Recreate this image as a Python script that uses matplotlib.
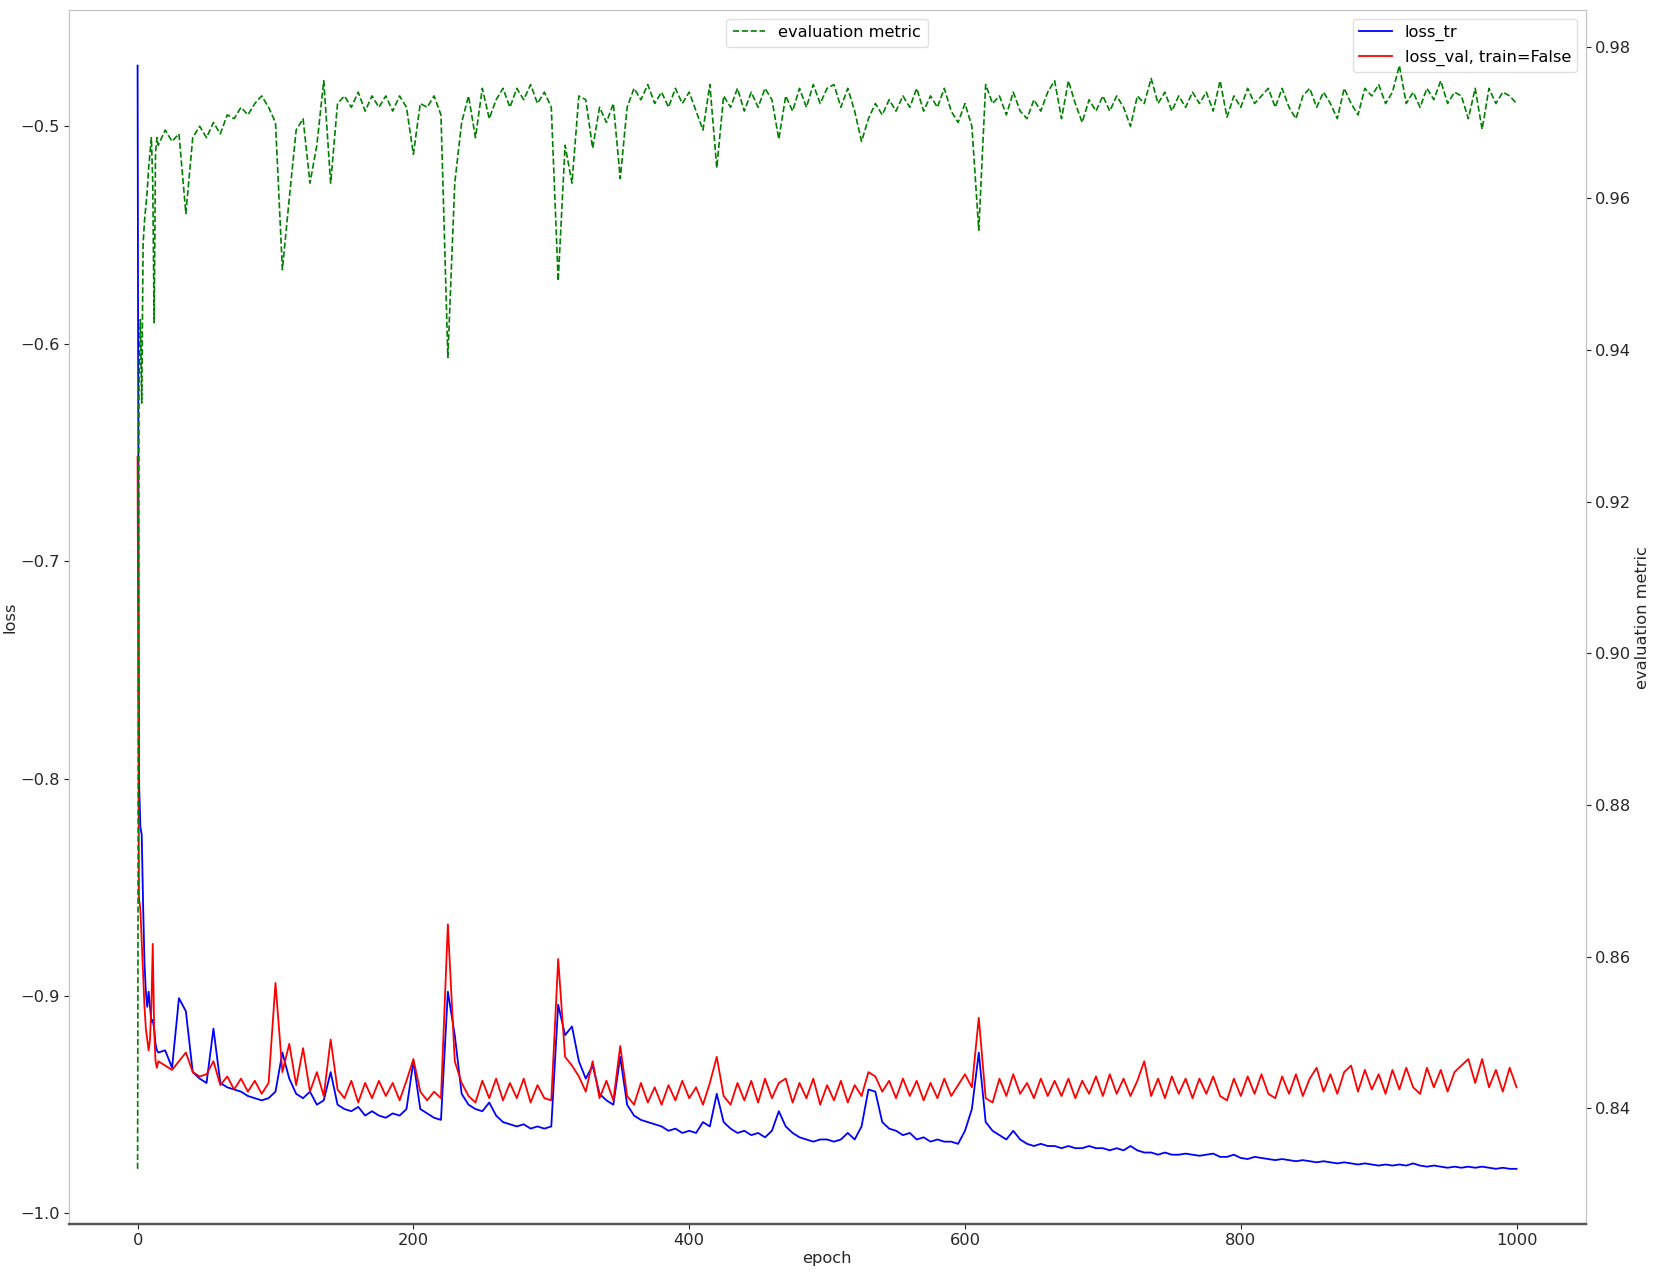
import matplotlib
matplotlib.use("Agg")
import matplotlib.pyplot as plt

# ---------------- data ----------------
epochs = list(range(0, 15)) + list(range(15, 1001, 5))

loss_tr = [
    -0.472, -0.800, -0.822, -0.826, -0.858, -0.885, -0.898, -0.905, -0.898, -0.905,
    -0.912, -0.911, -0.915, -0.922, -0.925,
    # 15-60
    -0.926, -0.925, -0.933, -0.901, -0.907, -0.935, -0.938, -0.940, -0.915, -0.940,
    # 65-110
    -0.942, -0.943, -0.944, -0.946, -0.947, -0.948, -0.947, -0.944, -0.926, -0.938,
    # 115-160
    -0.945, -0.947, -0.944, -0.950, -0.948, -0.935, -0.950, -0.952, -0.953, -0.951,
    # 165-210
    -0.955, -0.953, -0.955, -0.956, -0.954, -0.955, -0.952, -0.930, -0.952, -0.954,
    # 215-260
    -0.956, -0.957, -0.898, -0.918, -0.945, -0.950, -0.952, -0.953, -0.949, -0.955,
    # 265-310
    -0.958, -0.959, -0.960, -0.959, -0.961, -0.960, -0.961, -0.960, -0.904, -0.918,
    # 315-360
    -0.914, -0.930, -0.938, -0.932, -0.945, -0.948, -0.950, -0.928, -0.950, -0.955,
    # 365-410
    -0.957, -0.958, -0.959, -0.960, -0.962, -0.961, -0.963, -0.962, -0.963, -0.958,
    # 415-460
    -0.960, -0.945, -0.958, -0.961, -0.963, -0.962, -0.964, -0.963, -0.965, -0.962,
    # 465-510
    -0.953, -0.960, -0.963, -0.965, -0.966, -0.967, -0.966, -0.966, -0.967, -0.966,
    # 515-560
    -0.963, -0.966, -0.960, -0.943, -0.944, -0.958, -0.961, -0.962, -0.964, -0.963,
    # 565-610
    -0.966, -0.965, -0.967, -0.966, -0.967, -0.967, -0.968, -0.962, -0.952, -0.926,
    # 615-660
    -0.958, -0.962, -0.964, -0.966, -0.962, -0.966, -0.968, -0.969, -0.968, -0.969,
    # 665-710
    -0.969, -0.970, -0.969, -0.970, -0.970, -0.969, -0.970, -0.970, -0.971, -0.970,
    # 715-760
    -0.971, -0.969, -0.971, -0.972, -0.972, -0.973, -0.972, -0.973, -0.973, -0.9725,
    # 765-810
    -0.973, -0.9735, -0.973, -0.9725, -0.974, -0.974, -0.973, -0.9745, -0.975, -0.974,
    # 815-860
    -0.9745, -0.975, -0.9755, -0.975, -0.9755, -0.976, -0.9755, -0.976, -0.9765, -0.976,
    # 865-910
    -0.9765, -0.977, -0.9765, -0.977, -0.9775, -0.977, -0.9775, -0.978, -0.9775, -0.978,
    # 915-960
    -0.9775, -0.978, -0.977, -0.978, -0.9785, -0.978, -0.9785, -0.979, -0.9785, -0.979,
    # 965-1000
    -0.9785, -0.979, -0.9785, -0.979, -0.9795, -0.979, -0.9795, -0.9795,
]

loss_val = [
    -0.652, -0.855, -0.860, -0.875, -0.890, -0.905, -0.915, -0.920, -0.925, -0.920,
    -0.905, -0.876, -0.915, -0.930, -0.933,
    # 15-60
    -0.930, -0.932, -0.934, -0.930, -0.926, -0.935, -0.937, -0.936, -0.930, -0.941,
    # 65-110
    -0.937, -0.943, -0.938, -0.944, -0.939, -0.945, -0.940, -0.894, -0.935, -0.922,
    # 115-160
    -0.941, -0.924, -0.944, -0.935, -0.946, -0.920, -0.943, -0.947, -0.939, -0.949,
    # 165-210
    -0.940, -0.947, -0.939, -0.946, -0.940, -0.948, -0.939, -0.929, -0.944, -0.948,
    # 215-260
    -0.944, -0.947, -0.867, -0.930, -0.940, -0.946, -0.949, -0.939, -0.947, -0.938,
    # 265-310
    -0.948, -0.940, -0.947, -0.938, -0.949, -0.941, -0.947, -0.948, -0.883, -0.928,
    # 315-360
    -0.932, -0.937, -0.944, -0.930, -0.947, -0.939, -0.948, -0.923, -0.946, -0.950,
    # 365-410
    -0.940, -0.949, -0.942, -0.950, -0.941, -0.948, -0.939, -0.947, -0.942, -0.950,
    # 415-460
    -0.940, -0.928, -0.946, -0.950, -0.940, -0.948, -0.939, -0.949, -0.938, -0.947,
    # 465-510
    -0.940, -0.938, -0.949, -0.940, -0.947, -0.938, -0.950, -0.941, -0.948, -0.939,
    # 515-560
    -0.949, -0.941, -0.946, -0.935, -0.937, -0.944, -0.939, -0.947, -0.938, -0.946,
    # 565-610
    -0.939, -0.948, -0.940, -0.947, -0.938, -0.946, -0.941, -0.936, -0.942, -0.910,
    # 615-660
    -0.947, -0.949, -0.938, -0.946, -0.936, -0.945, -0.940, -0.947, -0.938, -0.946,
    # 665-710
    -0.939, -0.946, -0.938, -0.947, -0.939, -0.945, -0.937, -0.946, -0.936, -0.945,
    # 715-760
    -0.938, -0.946, -0.939, -0.930, -0.946, -0.938, -0.947, -0.937, -0.945, -0.938,
    # 765-810
    -0.947, -0.938, -0.945, -0.937, -0.946, -0.948, -0.938, -0.946, -0.937, -0.945,
    # 815-860
    -0.936, -0.945, -0.947, -0.937, -0.945, -0.936, -0.946, -0.938, -0.933, -0.944,
    # 865-910
    -0.936, -0.945, -0.935, -0.932, -0.944, -0.934, -0.943, -0.936, -0.945, -0.934,
    # 915-960
    -0.943, -0.933, -0.942, -0.945, -0.933, -0.942, -0.934, -0.944, -0.935, -0.932,
    # 965-1000
    -0.929, -0.940, -0.929, -0.942, -0.934, -0.944, -0.933, -0.942,
]

metric = [
    0.832, 0.935, 0.944, 0.933, 0.954, 0.957, 0.959, 0.961, 0.964, 0.966,
    0.968, 0.962, 0.9436, 0.966, 0.968,
    # 15-60
    0.967, 0.969, 0.9675, 0.9685, 0.958, 0.968, 0.9695, 0.968, 0.970, 0.9685,
    # 65-110
    0.971, 0.9705, 0.972, 0.971, 0.9725, 0.9735, 0.972, 0.970, 0.9506, 0.960,
    # 115-160
    0.969, 0.9705, 0.962, 0.967, 0.9755, 0.962, 0.9725, 0.9735, 0.972, 0.974,
    # 165-210
    0.9715, 0.9735, 0.972, 0.9735, 0.9715, 0.9735, 0.972, 0.9658, 0.9725, 0.972,
    # 215-260
    0.9735, 0.971, 0.939, 0.962, 0.970, 0.9735, 0.968, 0.9745, 0.9705, 0.973,
    # 265-310
    0.9745, 0.972, 0.9745, 0.973, 0.975, 0.9725, 0.974, 0.972, 0.9491, 0.967,
    # 315-360
    0.962, 0.9735, 0.973, 0.9666, 0.972, 0.970, 0.9725, 0.9626, 0.972, 0.9745,
    # 365-410
    0.973, 0.975, 0.9725, 0.974, 0.972, 0.9745, 0.9725, 0.974, 0.9715, 0.969,
    # 415-460
    0.975, 0.964, 0.9735, 0.972, 0.9745, 0.9715, 0.974, 0.972, 0.9745, 0.973,
    # 465-510
    0.9678, 0.9735, 0.9715, 0.9745, 0.972, 0.975, 0.9725, 0.9745, 0.975, 0.972,
    # 515-560
    0.9745, 0.9715, 0.9675, 0.9705, 0.9725, 0.971, 0.973, 0.9715, 0.9735, 0.972,
    # 565-610
    0.9745, 0.9715, 0.9735, 0.972, 0.9745, 0.9715, 0.970, 0.9725, 0.9695, 0.9558,
    # 615-660
    0.975, 0.9725, 0.9735, 0.971, 0.974, 0.9715, 0.9705, 0.973, 0.9715, 0.974,
    # 665-710
    0.9755, 0.9705, 0.9755, 0.9725, 0.970, 0.973, 0.9715, 0.9735, 0.9715, 0.9735,
    # 715-760
    0.972, 0.9695, 0.9735, 0.9725, 0.9758, 0.9725, 0.974, 0.9715, 0.9735, 0.972,
    # 765-810
    0.974, 0.9725, 0.974, 0.9715, 0.9755, 0.9707, 0.9735, 0.972, 0.9745, 0.9725,
    # 815-860
    0.9735, 0.9745, 0.972, 0.9745, 0.972, 0.9705, 0.9735, 0.9745, 0.972, 0.974,
    # 865-910
    0.9725, 0.9705, 0.9745, 0.9725, 0.971, 0.9745, 0.9735, 0.975, 0.9725, 0.974,
    # 915-960
    0.9775, 0.9725, 0.974, 0.972, 0.9745, 0.973, 0.9755, 0.9725, 0.974, 0.9735,
    # 965-1000
    0.9705, 0.9745, 0.9691, 0.9745, 0.9725, 0.974, 0.9735, 0.9725,
]

assert len(epochs) == len(loss_tr) == len(loss_val) == len(metric), (
    len(epochs), len(loss_tr), len(loss_val), len(metric))

x_ticks = [0, 200, 400, 600, 800, 1000]
left_ticks = [-1.0, -0.9, -0.8, -0.7, -0.6, -0.5]
right_ticks = [0.84, 0.86, 0.88, 0.90, 0.92, 0.94, 0.96, 0.98]

# ---------------- plot ----------------
FS = 11.7
TXT = "#262626"
plt.rcParams["font.family"] = ["DejaVu Sans"]

fig = plt.figure(figsize=(16.54, 12.73), dpi=100)
ax = fig.add_axes([0.0415, 0.0385, 0.9171, 0.9533])
ax2 = ax.twinx()

ax.plot(epochs, loss_tr, color="#0000ff", lw=1.3, label="loss_tr")
ax.plot(epochs, loss_val, color="#ff0000", lw=1.3, label="loss_val, train=False")
ax2.plot(epochs, metric, color="#008000", lw=1.2, ls="--", label="evaluation metric")

ax.set_xticks(x_ticks)
ax.set_yticks(left_ticks)
ax.set_yticklabels(["\u22121.0", "\u22120.9", "\u22120.8", "\u22120.7", "\u22120.6", "\u22120.5"])
ax2.set_yticks(right_ticks)

ax.set_xlabel("epoch", fontsize=FS, color=TXT, labelpad=2)
ax.set_ylabel("loss", fontsize=FS, color=TXT, labelpad=2)
ax2.set_ylabel("evaluation metric", fontsize=FS, color=TXT, labelpad=3)

for a in (ax, ax2):
    a.tick_params(labelsize=FS, colors=TXT, length=3.5, pad=3)
    for side in ("left", "right", "top"):
        a.spines[side].set_color("#c4c4c4")
    a.spines["bottom"].set_color("#555555")
    a.spines["bottom"].set_linewidth(1.6)

ax.legend(loc="upper right", fontsize=FS, framealpha=0.9, edgecolor="#dddddd")
ax2.legend(loc="upper center", fontsize=FS, framealpha=0.9, edgecolor="#dddddd")

fig.savefig("out.png", dpi=100)
